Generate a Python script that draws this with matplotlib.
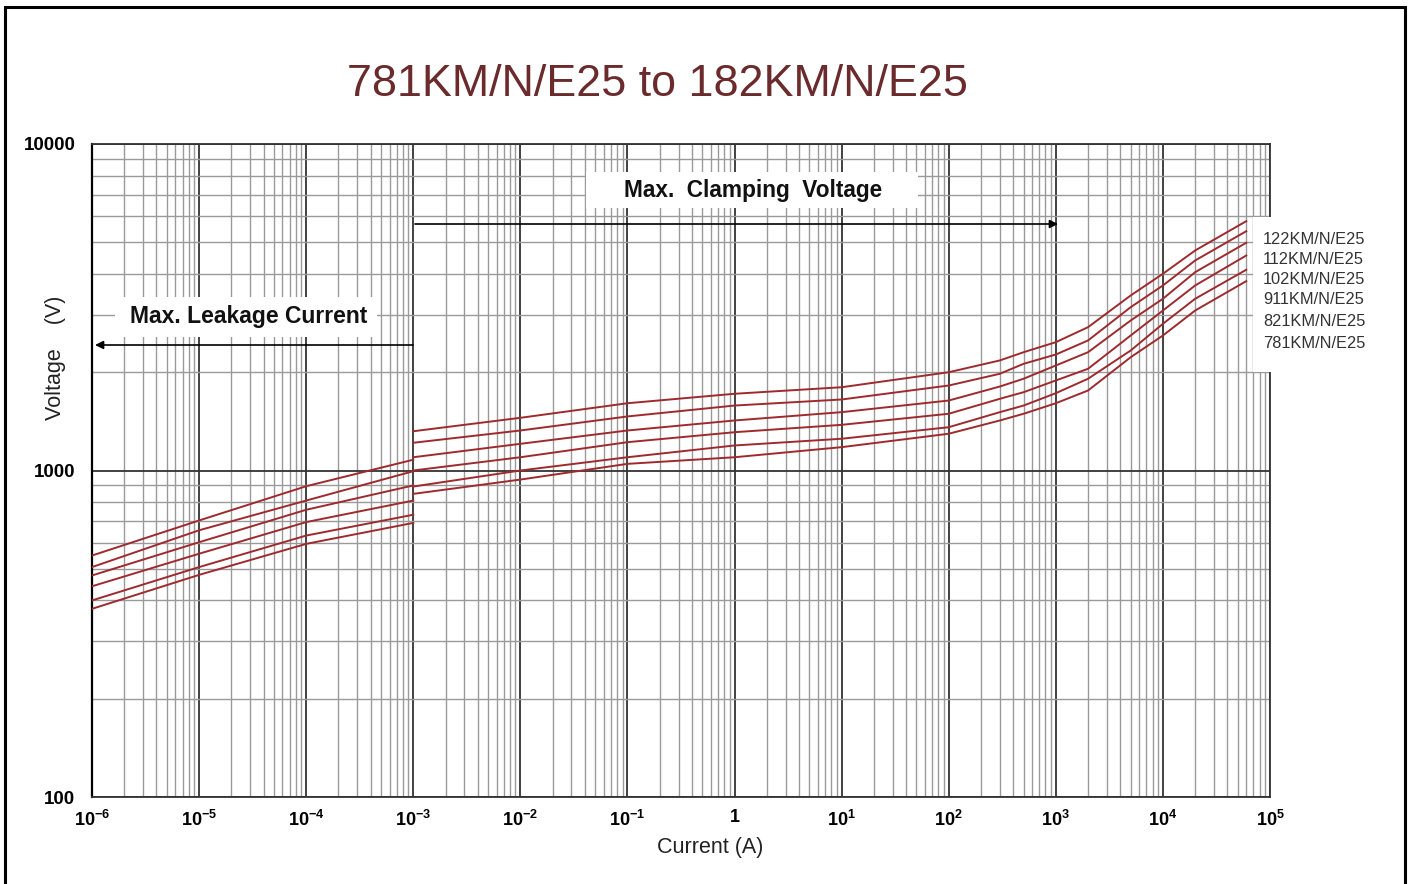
import matplotlib
matplotlib.use("Agg")
import matplotlib.pyplot as plt
from matplotlib.patches import Rectangle
from matplotlib.ticker import LogLocator, NullFormatter, FixedLocator

plt.rcParams['font.family'] = ['Liberation Sans', 'DejaVu Sans']
plt.rcParams['mathtext.fontset'] = 'custom'
plt.rcParams['mathtext.bf'] = 'Liberation Sans:bold'
plt.rcParams['mathtext.rm'] = 'Liberation Sans'

# ---------------- data ----------------
series_names = ["122KM/N/E25", "112KM/N/E25", "102KM/N/E25",
                "911KM/N/E25", "821KM/N/E25", "781KM/N/E25"]

leak_current = [1e-6, 1e-5, 1e-4, 1e-3]
leak_122 = [549, 703, 895, 1079]
leak_112 = [506, 656, 809, 995]
leak_102 = [477, 603, 758, 900]
leak_911 = [442, 556, 695, 809]
leak_821 = [400, 506, 632, 732]
leak_781 = [377, 479, 596, 691]

clamp_current = [1e-3, 1e-2, 1e-1, 1, 10, 100, 300, 500, 1e3, 2e3, 5e3, 1e4, 2e4, 6e4]
clamp_122 = [1319, 1450, 1607, 1718, 1799, 2000, 2173, 2303, 2472, 2748, 3436, 4004, 4719, 5802]
clamp_112 = [1216, 1326, 1464, 1581, 1650, 1821, 1978, 2122, 2266, 2502, 3164, 3687, 4398, 5406]
clamp_102 = [1098, 1207, 1326, 1423, 1509, 1638, 1808, 1910, 2097, 2303, 2880, 3357, 4050, 4983]
clamp_911 = [1000, 1098, 1221, 1310, 1380, 1492, 1658, 1737, 1887, 2049, 2591, 3090, 3687, 4555]
clamp_821 = [893, 1000, 1098, 1193, 1251, 1357, 1509, 1581, 1725, 1910, 2331, 2814, 3357, 4119]
clamp_781 = [848, 938, 1048, 1098, 1179, 1296, 1423, 1492, 1607, 1758, 2223, 2591, 3090, 3801]

leak_series = [leak_122, leak_112, leak_102, leak_911, leak_821, leak_781]
clamp_series = [clamp_122, clamp_112, clamp_102, clamp_911, clamp_821, clamp_781]

x_ticks = [1e-6, 1e-5, 1e-4, 1e-3, 1e-2, 1e-1, 1, 10, 100, 1e3, 1e4, 1e5]
x_tick_labels = [r'$\mathbf{10^{-6}}$', r'$\mathbf{10^{-5}}$', r'$\mathbf{10^{-4}}$',
                 r'$\mathbf{10^{-3}}$', r'$\mathbf{10^{-2}}$', r'$\mathbf{10^{-1}}$',
                 r'$\mathbf{1}$', r'$\mathbf{10^{1}}$', r'$\mathbf{10^{2}}$',
                 r'$\mathbf{10^{3}}$', r'$\mathbf{10^{4}}$', r'$\mathbf{10^{5}}$']
y_ticks = [100, 1000, 10000]
y_tick_labels = ["100", "1000", "10000"]

title = "781KM/N/E25 to 182KM/N/E25"

# ---------------- figure ----------------
fig = plt.figure(figsize=(14.1, 8.84), dpi=100)
ax = fig.add_axes([92/1410, 1-797/884, (1270-92)/1410, (797-144)/884])
ax.set_xscale('log')
ax.set_yscale('log')
ax.set_xlim(1e-6, 1e5)
ax.set_ylim(100, 10000)

curve_color = '#9e2a2e'
for lv, cv in zip(leak_series, clamp_series):
    ax.plot(leak_current, lv, color=curve_color, lw=1.4, zorder=4)
    ax.plot(clamp_current, cv, color=curve_color, lw=1.4, zorder=4)

# grid
ax.xaxis.set_major_locator(FixedLocator(x_ticks))
ax.xaxis.set_minor_locator(LogLocator(base=10, subs=range(2, 10), numticks=100))
ax.yaxis.set_major_locator(FixedLocator(y_ticks))
ax.yaxis.set_minor_locator(LogLocator(base=10, subs=range(2, 10), numticks=100))
ax.xaxis.set_minor_formatter(NullFormatter())
ax.yaxis.set_minor_formatter(NullFormatter())
ax.grid(which='minor', color='#9a9a9a', lw=1.0)
ax.grid(which='major', color='#333333', lw=1.3)
ax.set_axisbelow(True)

ax.set_xticklabels(x_tick_labels, fontsize=13)
ax.set_yticklabels(y_tick_labels, fontsize=13.5, fontweight='bold')
ax.tick_params(which='both', length=0)
ax.tick_params(axis='x', pad=9)
ax.tick_params(axis='y', pad=12)
for s in ax.spines.values():
    s.set_color('#333333')
    s.set_linewidth(1.3)
ax.spines['left'].set_color('black')
ax.spines['left'].set_linewidth(1.6)

ax.set_xlabel("Current (A)", fontsize=15.5, color='#222222')
ax.xaxis.set_label_coords((710-92)/1178, (797-848)/653)
ax.xaxis.label.set_va('center')
ax.set_ylabel("Voltage    (V)", fontsize=15.5, color='#222222')
ax.yaxis.set_label_coords((55-92)/1178, (797-358)/653)
ax.yaxis.label.set_va('center')

# title
fig.text(657/1410, 1-85/884, title, fontsize=32.3, color='#6b2a2c',
         ha='center', va='center')

# annotation boxes
ax.add_patch(Rectangle(((586-92)/1178, (797-208)/653), 332/1178, 36/653,
                       transform=ax.transAxes, fc='white', ec='none', zorder=3))
ax.text((753-92)/1178, (797-190)/653, "Max.  Clamping  Voltage", transform=ax.transAxes,
        ha='center', va='center', fontsize=16.3, fontweight='bold', color='#111111', zorder=5)
ax.add_patch(Rectangle(((115-92)/1178, (797-337)/653), 262/1178, 40/653,
                       transform=ax.transAxes, fc='white', ec='none', zorder=3))
ax.text((249-92)/1178, (797-316)/653, "Max. Leakage Current", transform=ax.transAxes,
        ha='center', va='center', fontsize=16.5, fontweight='bold', color='#111111', zorder=5)

# arrows
ax.annotate("", xy=((1058-92)/1178, (797-224)/653), xytext=((415-92)/1178, (797-224)/653),
            xycoords='axes fraction', textcoords='axes fraction',
            arrowprops=dict(arrowstyle='-|>', color='black', lw=1.2,
                            mutation_scale=12, shrinkA=0, shrinkB=0), zorder=5)
ax.annotate("", xy=((95-92)/1178, (797-345)/653), xytext=((413-92)/1178, (797-345)/653),
            xycoords='axes fraction', textcoords='axes fraction',
            arrowprops=dict(arrowstyle='-|>', color='black', lw=1.2,
                            mutation_scale=12, shrinkA=0, shrinkB=0), zorder=5)

# legend-like labels
ax.add_patch(Rectangle(((1253-92)/1178, (797-372)/653), 120/1178, 155/653,
                       transform=ax.transAxes, fc='white', ec='none', zorder=6,
                       clip_on=False))
label_y = [240, 259, 279, 300, 322, 344]
for name, py in zip(series_names, label_y):
    ax.text((1263-92)/1178, (797-py)/653, name, transform=ax.transAxes,
            ha='left', va='center', fontsize=11.8, color='#333333', zorder=7,
            clip_on=False)

# outer frame
fig.patches.append(Rectangle((5/1410, -0.05), 1400/1410, 1.05 - 7/884,
                             transform=fig.transFigure, fill=False,
                             ec='black', lw=2.2, zorder=10))

fig.savefig("out.png", dpi=100)
